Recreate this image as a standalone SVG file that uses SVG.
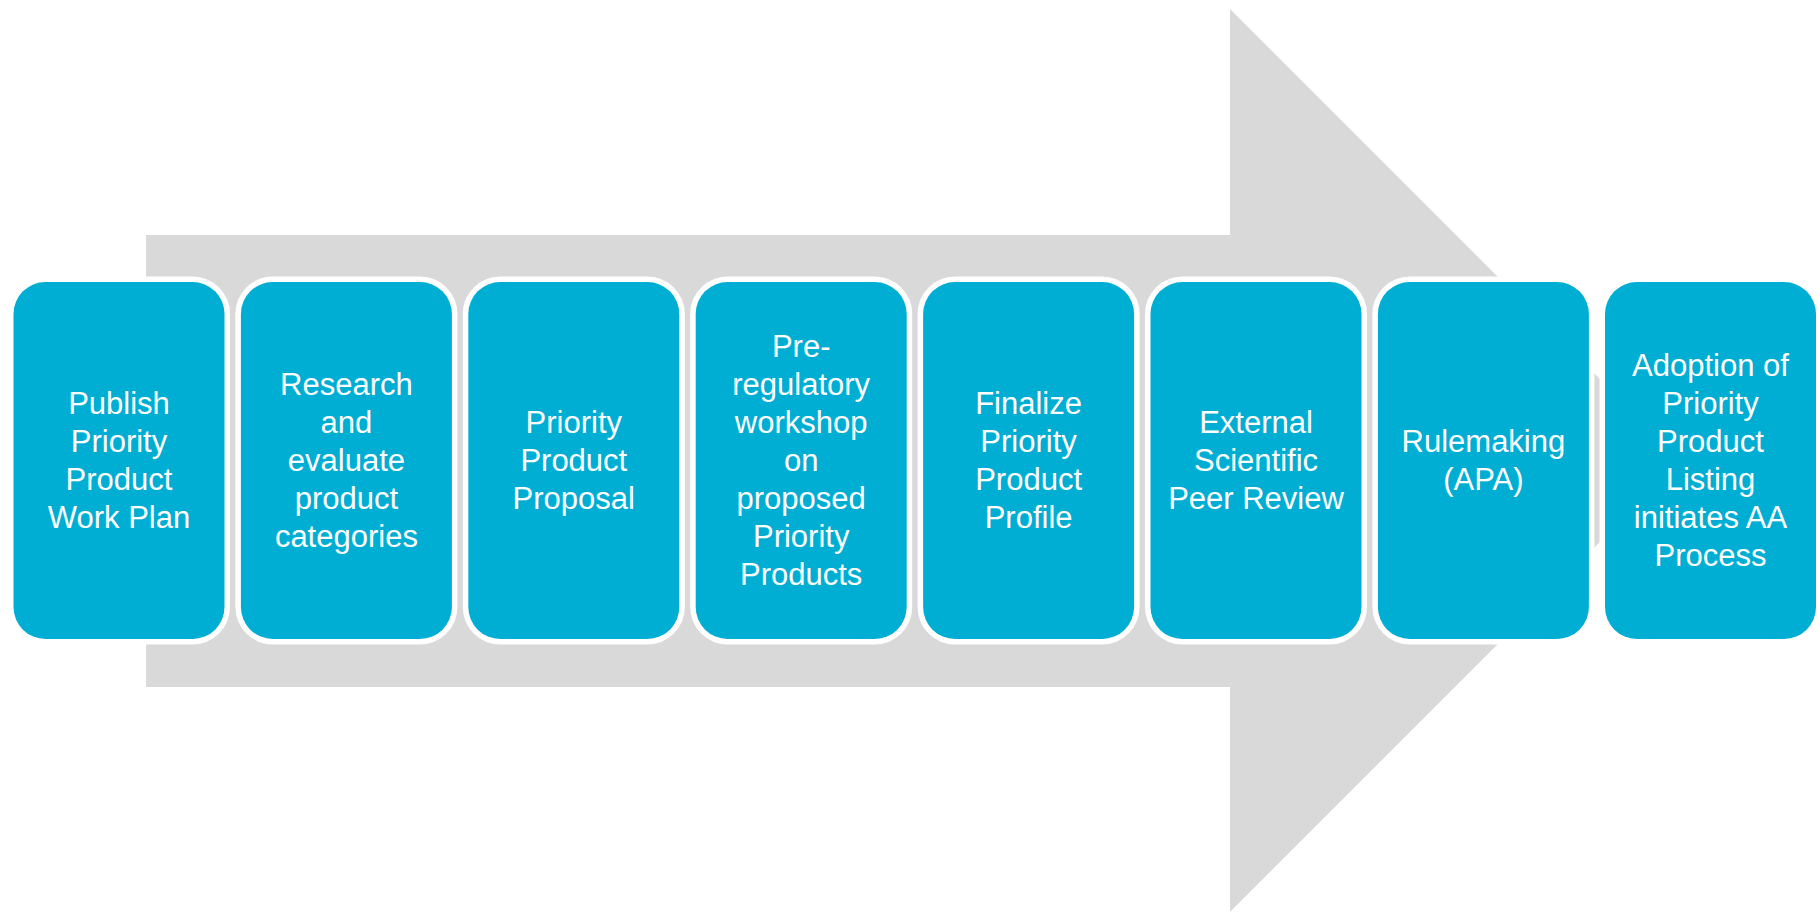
<svg xmlns="http://www.w3.org/2000/svg" width="1820" height="912" viewBox="0 0 1820 912">
<style>
.box{fill:#00AED4;stroke:#FFFFFF;stroke-width:11;paint-order:stroke}
.t{fill:#FFFFFF;font-family:"Liberation Sans",Arial,sans-serif;font-size:31px;text-anchor:middle}
</style>
<rect width="1820" height="912" fill="#FFFFFF"/>
<g id="arrow">
<polygon points="146,235 1230,235 1230,9 1681.5,460.5 1230,912 1230,687 146,687" fill="#D9D9D9"/>
</g>
<g id="connectors"></g>
<g id="n1">
<rect class="box" x="13.5" y="282" width="211" height="357" rx="32"/>
<text class="t" x="119" y="413.8">Publish</text>
<text class="t" x="119" y="451.8">Priority</text>
<text class="t" x="119" y="489.8">Product</text>
<text class="t" x="119" y="527.8">Work Plan</text>
</g>
<g id="n2">
<rect class="box" x="240.9" y="282" width="211" height="357" rx="32"/>
<text class="t" x="346.4" y="394.8">Research</text>
<text class="t" x="346.4" y="432.8">and</text>
<text class="t" x="346.4" y="470.8">evaluate</text>
<text class="t" x="346.4" y="508.8">product</text>
<text class="t" x="346.4" y="546.8">categories</text>
</g>
<g id="n3">
<rect class="box" x="468.3" y="282" width="211" height="357" rx="32"/>
<text class="t" x="573.8" y="432.8">Priority</text>
<text class="t" x="573.8" y="470.8">Product</text>
<text class="t" x="573.8" y="508.8">Proposal</text>
</g>
<g id="n4">
<rect class="box" x="695.7" y="282" width="211" height="357" rx="32"/>
<text class="t" x="801.2" y="356.8">Pre-</text>
<text class="t" x="801.2" y="394.8">regulatory</text>
<text class="t" x="801.2" y="432.8">workshop</text>
<text class="t" x="801.2" y="470.8">on</text>
<text class="t" x="801.2" y="508.8">proposed</text>
<text class="t" x="801.2" y="546.8">Priority</text>
<text class="t" x="801.2" y="584.8">Products</text>
</g>
<g id="n5">
<rect class="box" x="923.1" y="282" width="211" height="357" rx="32"/>
<text class="t" x="1028.6" y="413.8">Finalize</text>
<text class="t" x="1028.6" y="451.8">Priority</text>
<text class="t" x="1028.6" y="489.8">Product</text>
<text class="t" x="1028.6" y="527.8">Profile</text>
</g>
<g id="n6">
<rect class="box" x="1150.5" y="282" width="211" height="357" rx="32"/>
<text class="t" x="1256" y="432.8">External</text>
<text class="t" x="1256" y="470.8">Scientific</text>
<text class="t" x="1256" y="508.8">Peer Review</text>
</g>
<g id="n7">
<rect class="box" x="1377.9" y="282" width="211" height="357" rx="32"/>
<text class="t" x="1483.4" y="451.8">Rulemaking</text>
<text class="t" x="1483.4" y="489.8">(APA)</text>
</g>
<g id="n8">
<rect class="box" x="1605" y="282" width="211" height="357" rx="32"/>
<text class="t" x="1710.5" y="375.8">Adoption of</text>
<text class="t" x="1710.5" y="413.8">Priority</text>
<text class="t" x="1710.5" y="451.8">Product</text>
<text class="t" x="1710.5" y="489.8">Listing</text>
<text class="t" x="1710.5" y="527.8">initiates AA</text>
<text class="t" x="1710.5" y="565.8">Process</text>
</g>
</svg>
